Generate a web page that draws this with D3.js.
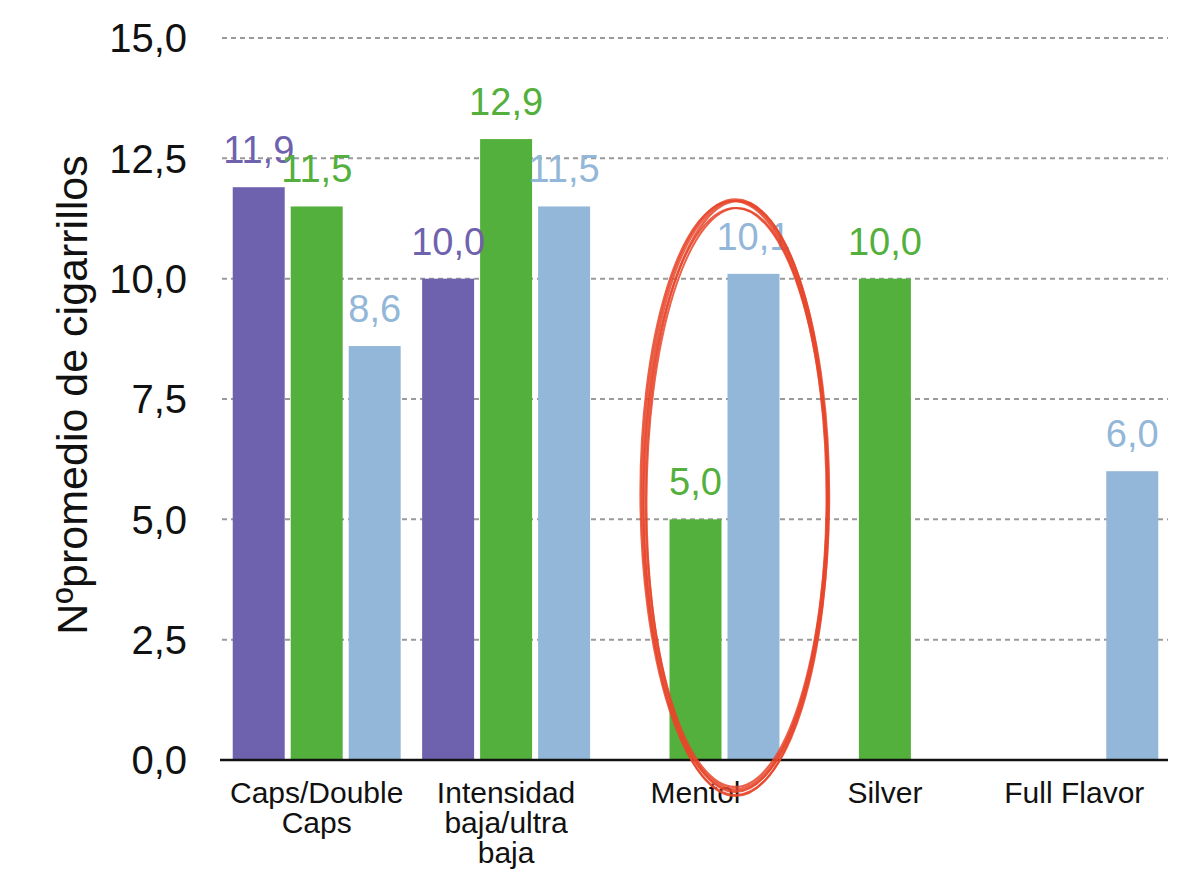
<!DOCTYPE html>
<html><head><meta charset="utf-8">
<script src="https://cdn.jsdelivr.net/npm/d3@7"></script>
<style>body{margin:0;background:#fff}svg{display:block}text{font-family:"Liberation Sans",Arial,Helvetica,sans-serif}</style>
</head><body>
<svg id="c" width="1189" height="869"></svg>
<script>
const categories = ["Caps/Double Caps","Intensidad baja/ultra baja","Mentol","Silver","Full Flavor"];
const categoryLines = [["Caps/Double","Caps"],["Intensidad","baja/ultra","baja"],["Mentol"],["Silver"],["Full Flavor"]];
const seriesNames = ["s1","s2","s3"];
const seriesColors = ["#6e62ae","#53b03c","#93b7d8"];
const values1 = [11.9, 10.0, null, null, null];
const values2 = [11.5, 12.9, 5.0, 10.0, null];
const values3 = [8.6, 11.5, 10.1, null, 6.0];
const yTicks = [0, 2.5, 5, 7.5, 10, 12.5, 15];
const yTitle = "Nºpromedio de cigarrillos";

const series = [values1, values2, values3];
const svg = d3.select("#c");
const fmt = v => d3.format(".1f")(v).replace(".", ",");

const x0 = d3.scaleBand().domain(categories).range([222, 1169]).paddingInner(0).paddingOuter(0);
const x1 = d3.scaleBand().domain(seriesNames).range([0, x0.bandwidth()]).paddingInner(6/58).paddingOuter(0.185);
const y = d3.scaleLinear().domain([0, 15]).range([760, 38]);

// grid
svg.append("g").selectAll("line").data(yTicks.filter(t => t > 0)).join("line")
  .attr("x1", 222).attr("x2", 1168).attr("y1", d => y(d)).attr("y2", d => y(d))
  .attr("stroke", "#9a9a9a").attr("stroke-width", 2).attr("stroke-dasharray", "5,4");

// y tick labels
svg.append("g").selectAll("text").data(yTicks).join("text")
  .attr("x", 187).attr("y", d => y(d)).attr("dy", "0.36em")
  .attr("text-anchor", "end").attr("font-size", 40).attr("fill", "#111")
  .text(d => fmt(d));

// bars
const bars = [];
series.forEach((vals, si) => vals.forEach((v, ci) => { if (v != null) bars.push({si, ci, v}); }));
svg.append("g").selectAll("rect").data(bars).join("rect")
  .attr("x", d => x0(categories[d.ci]) + x1(seriesNames[d.si]))
  .attr("width", x1.bandwidth())
  .attr("y", d => y(d.v)).attr("height", d => y(0) - y(d.v))
  .attr("fill", d => seriesColors[d.si]);

// value labels
svg.append("g").selectAll("text").data(bars).join("text")
  .attr("x", d => x0(categories[d.ci]) + x1(seriesNames[d.si]) + x1.bandwidth()/2)
  .attr("y", d => y(d.v) - 24)
  .attr("text-anchor", "middle").attr("font-size", 38)
  .attr("fill", d => seriesColors[d.si])
  .text(d => fmt(d.v));

// axis baseline
svg.append("line").attr("x1", 220).attr("x2", 1168).attr("y1", y(0)).attr("y2", y(0))
  .attr("stroke", "#111").attr("stroke-width", 2.5);

// category labels
const cg = svg.append("g").selectAll("text").data(categories).join("text")
  .attr("x", d => x0(d) + x0.bandwidth()/2).attr("y", 803)
  .attr("text-anchor", "middle").attr("font-size", 30).attr("fill", "#111");
cg.each(function(d, i) {
  const t = d3.select(this);
  categoryLines[i].forEach((ln, k) => {
    t.append("tspan").attr("x", x0(d) + x0.bandwidth()/2).attr("dy", k === 0 ? 0 : 30).text(ln);
  });
});

// y title
svg.append("text").attr("transform", "translate(87,395) rotate(-90)")
  .attr("text-anchor", "middle").attr("font-size", 43).attr("fill", "#111")
  .text(yTitle);

// hand-drawn red ellipse around Mentol
const cx = x0("Mentol") + x0.bandwidth()/2 + 40, cy = 495;
const eg = svg.append("g").attr("fill", "none").attr("stroke", "#e8472c").attr("stroke-linecap", "round");
const variants = [[93, 295, 0, 0, 3.4, 0], [91, 293, 1, -1, 2.4, 0.3], [94, 297, -1, 3, 2.2, -0.3], [90, 292, 1, 5, 2, 0.2], [92, 294, 0, 7, 2, 0]];
variants.forEach(([rx, ry, dx, dy, sw, rot]) => {
  eg.append("ellipse").attr("cx", cx + dx).attr("cy", cy + dy).attr("rx", rx).attr("ry", ry)
    .attr("transform", `rotate(${rot},${cx},${cy})`)
    .attr("stroke-width", sw).attr("opacity", 0.85);
});
</script>
</body></html>
